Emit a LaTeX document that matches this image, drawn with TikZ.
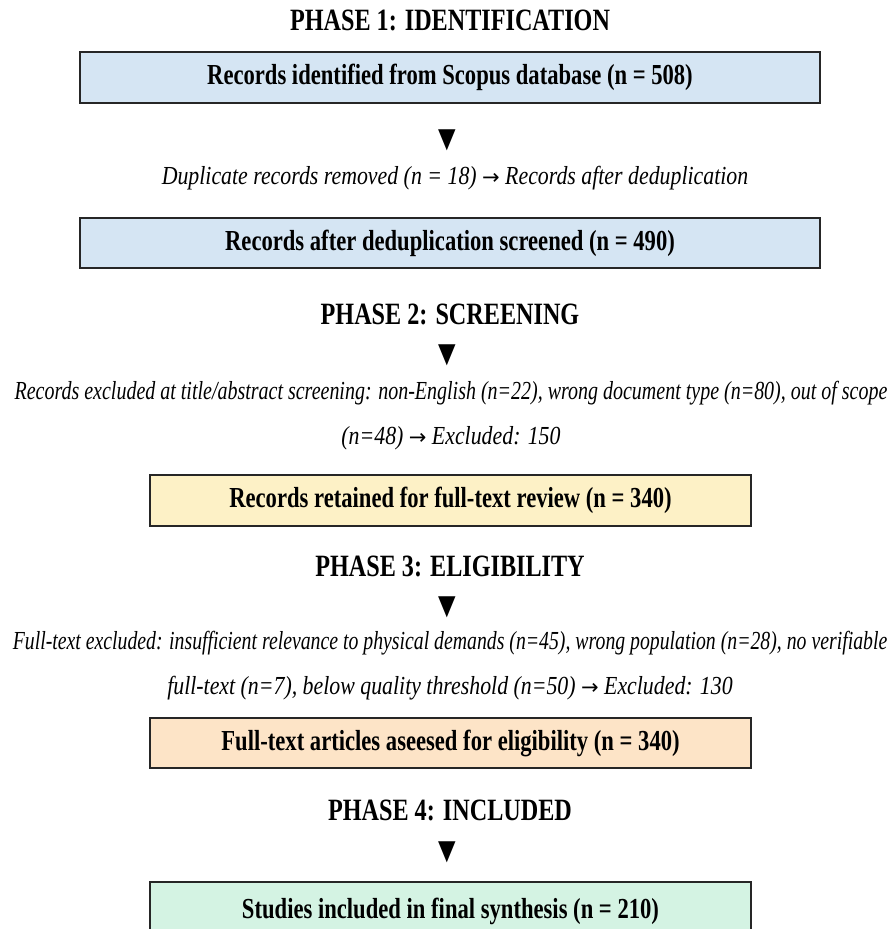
\documentclass[tikz,border=0pt]{standalone}
\usepackage{fontspec}
\setmainfont{Liberation Serif}[FakeStretch=0.78]
\newfontfamily\notefont{Liberation Serif}[FakeStretch=0.84]
\newfontfamily\symfont{DejaVu Sans}
\definecolor{boxline}{HTML}{262626}
\definecolor{blueF}{HTML}{D5E5F3}
\definecolor{yellowF}{HTML}{FDF1C6}
\definecolor{peachF}{HTML}{FDE4C7}
\definecolor{mintF}{HTML}{D4F3E3}
\newcommand{\noteArrow}{{\symfont\fontsize{21}{21}\selectfont→}}
\begin{document}
\begin{tikzpicture}[x=1pt,y=1pt,
  phase/.style={font=\fontsize{31}{36}\selectfont\bfseries, inner sep=0pt},
  stepbox/.style={draw=boxline, line width=2.4pt, inner sep=0pt, font=\fontsize{29}{34}\selectfont\bfseries},
  note/.style={font=\notefont\fontsize{26}{45}\selectfont\itshape, align=center, inner sep=0pt},
  tri/.style={font=\symfont\fontsize{24}{24}\selectfont, inner sep=0pt}]
\useasboundingbox (0,0) rectangle (891,-929);
\fill[white] (0,0) rectangle (891,-929);

\node[phase] (p1) at (450,-20) {PHASE 1: IDENTIFICATION};
\node[stepbox, fill=blueF, minimum width=740, minimum height=51] (b1) at (450,-77.5) {Records identified from Scopus database (n = 508)};
\node[tri] (t1) at (447,-140) {\scalebox{0.95}[1.15]{▼}};
\node[note] (n1) at (455,-178) {Duplicate records removed (n = 18) \noteArrow{} Records after deduplication};
\node[stepbox, fill=blueF, minimum width=740, minimum height=50] (b2) at (450,-243) {Records after deduplication screened (n = 490)};

\node[phase] (p2) at (450,-314) {PHASE 2: SCREENING};
\node[tri] (t2) at (447,-355) {\scalebox{0.95}[1.15]{▼}};
\node[note] (n2) at (451,-415.5) {\scalebox{0.915}[1]{Records excluded at title/abstract screening: non-English (n=22), wrong document type (n=80), out of scope}\\(n=48) \noteArrow{} Excluded: 150};
\node[stepbox, fill=yellowF, minimum width=601, minimum height=51] (b3) at (450.5,-500.5) {Records retained for full-text review (n = 340)};

\node[phase] (p3) at (450,-566) {PHASE 3: ELIGIBILITY};
\node[tri] (t3) at (447,-607) {\scalebox{0.95}[1.15]{▼}};
\node[note] (n3) at (450,-666) {\scalebox{0.905}[1]{Full-text excluded: insufficient relevance to physical demands (n=45), wrong population (n=28), no verifiable}\\full-text (n=7), below quality threshold (n=50) \noteArrow{} Excluded: 130};
\node[stepbox, fill=peachF, minimum width=601, minimum height=50] (b4) at (450.5,-743) {Full-text articles aseesed for eligibility (n = 340)};

\node[phase] (p4) at (450,-810) {PHASE 4: INCLUDED};
\node[tri] (t4) at (447,-852) {\scalebox{0.95}[1.15]{▼}};
\node[stepbox, fill=mintF, minimum width=601, minimum height=58] (b5) at (450.5,-911) {Studies included in final synthesis (n = 210)};
\end{tikzpicture}
\end{document}
